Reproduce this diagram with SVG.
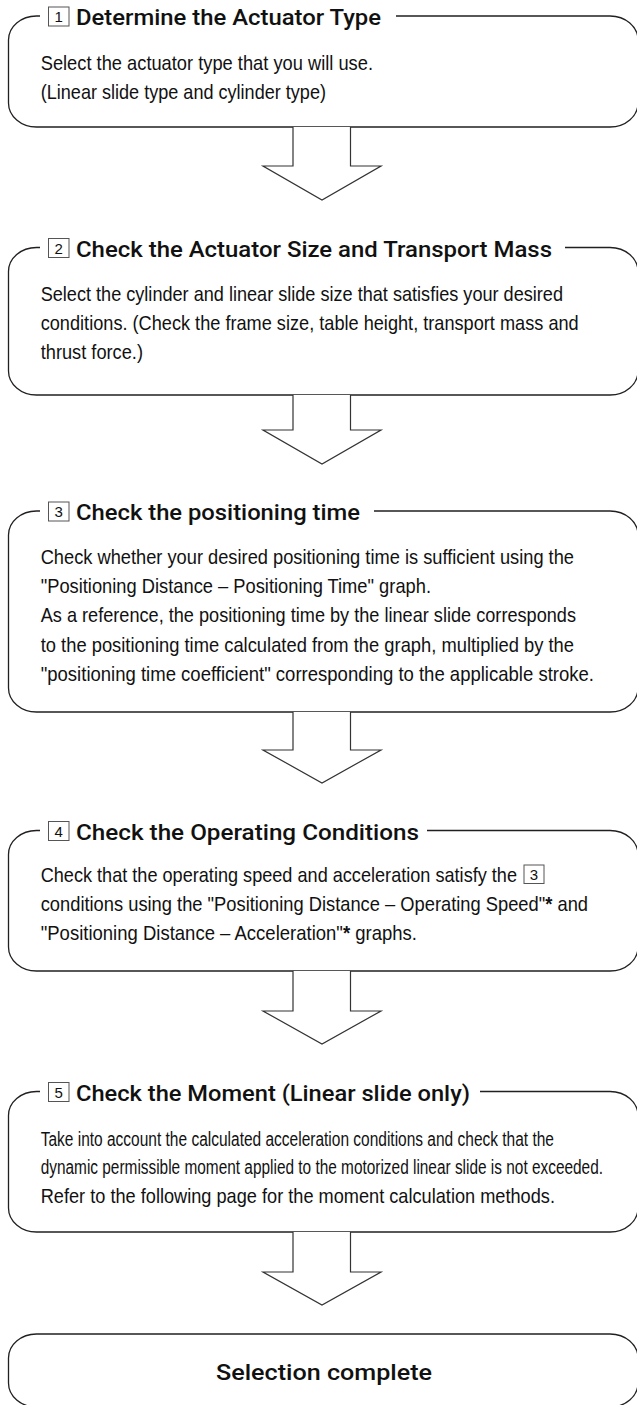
<svg xmlns="http://www.w3.org/2000/svg" width="637" height="1405" viewBox="0 0 637 1405">
<style>
.frame{fill:none;stroke:#231f20;stroke-width:1.3}
.arrow{fill:#fff;stroke:#333;stroke-width:1.2;stroke-linejoin:miter}
.title{font-family:Roboto,"Liberation Sans",Arial,sans-serif;font-weight:500;font-size:22px;fill:#111}
.body{font-family:"Liberation Sans",Arial,sans-serif;font-size:21px;fill:#111}
.small{font-size:20px}
.num{fill:#fff;stroke:#555;stroke-width:1}
.numt{font-family:"Liberation Sans",Arial,sans-serif;font-size:15px;fill:#111;text-anchor:middle}
.ast{font-weight:bold}
</style>
<rect x="0" y="0" width="637" height="1405" fill="#fff"/>

<g id="step1">
<path class="frame" d="M40,16 H36.5 A28,24 0 0 0 8.5,40 V103 A28,24 0 0 0 36.5,127 H610 A28,24 0 0 0 638,103 V40 A28,24 0 0 0 610,16 H396"/>
<rect class="num" x="48.5" y="7" width="20.5" height="19"/>
<text class="numt" x="58.75" y="22">1</text>
<text class="title" x="76" y="25" textLength="305" lengthAdjust="spacingAndGlyphs">Determine the Actuator Type</text>
<text class="body" x="40.7" y="69.5" textLength="332.3" lengthAdjust="spacingAndGlyphs">Select the actuator type that you will use.</text>
<text class="body" x="40.7" y="99" textLength="285.3" lengthAdjust="spacingAndGlyphs">(Linear slide type and cylinder type)</text>
</g>

<g id="step2">
<path class="frame" d="M40,247.5 H36.5 A28,24 0 0 0 8.5,271.5 V371 A28,24 0 0 0 36.5,395 H610 A28,24 0 0 0 638,371 V271.5 A28,24 0 0 0 610,247.5 H565"/>
<rect class="num" x="48.5" y="238.5" width="20.5" height="19"/>
<text class="numt" x="58.75" y="253.5">2</text>
<text class="title" x="76" y="256.5" textLength="476" lengthAdjust="spacingAndGlyphs">Check the Actuator Size and Transport Mass</text>
<text class="body" x="40.7" y="301" textLength="522.3" lengthAdjust="spacingAndGlyphs">Select the cylinder and linear slide size that satisfies your desired</text>
<text class="body" x="40.7" y="330" textLength="538" lengthAdjust="spacingAndGlyphs">conditions. (Check the frame size, table height, transport mass and</text>
<text class="body" x="40.7" y="359" textLength="102.3" lengthAdjust="spacingAndGlyphs">thrust force.)</text>
</g>

<g id="step3">
<path class="frame" d="M40,511 H36.5 A28,24 0 0 0 8.5,535 V688 A28,24 0 0 0 36.5,712 H610 A28,24 0 0 0 638,688 V535 A28,24 0 0 0 610,511 H374"/>
<rect class="num" x="48.5" y="502" width="20.5" height="19"/>
<text class="numt" x="58.75" y="517">3</text>
<text class="title" x="76" y="520" textLength="284" lengthAdjust="spacingAndGlyphs">Check the positioning time</text>
<text class="body" x="40.7" y="564" textLength="533.3" lengthAdjust="spacingAndGlyphs">Check whether your desired positioning time is sufficient using the</text>
<text class="body" x="40.7" y="593" textLength="390.3" lengthAdjust="spacingAndGlyphs">"Positioning Distance – Positioning Time" graph.</text>
<text class="body" x="40.7" y="622" textLength="535.3" lengthAdjust="spacingAndGlyphs">As a reference, the positioning time by the linear slide corresponds</text>
<text class="body" x="40.7" y="652" textLength="533.3" lengthAdjust="spacingAndGlyphs">to the positioning time calculated from the graph, multiplied by the</text>
<text class="body" x="40.7" y="681" textLength="553.3" lengthAdjust="spacingAndGlyphs">"positioning time coefficient" corresponding to the applicable stroke.</text>
</g>

<g id="step4">
<path class="frame" d="M40,830.5 H36.5 A28,24 0 0 0 8.5,854.5 V947 A28,24 0 0 0 36.5,971 H610 A28,24 0 0 0 638,947 V854.5 A28,24 0 0 0 610,830.5 H427"/>
<rect class="num" x="48.5" y="821.5" width="20.5" height="19"/>
<text class="numt" x="58.75" y="836.5">4</text>
<text class="title" x="76" y="839.5" textLength="343" lengthAdjust="spacingAndGlyphs">Check the Operating Conditions</text>
<text class="body" x="40.7" y="882" textLength="476.3" lengthAdjust="spacingAndGlyphs">Check that the operating speed and acceleration satisfy the</text>
<rect class="num" x="524" y="865" width="20" height="18.5"/>
<text class="numt" x="534" y="880">3</text>
<text class="body" x="40.7" y="911" textLength="547.3" lengthAdjust="spacingAndGlyphs">conditions using the "Positioning Distance – Operating Speed"<tspan class="ast">*</tspan> and</text>
<text class="body" x="40.7" y="940" textLength="376.3" lengthAdjust="spacingAndGlyphs">"Positioning Distance – Acceleration"<tspan class="ast">*</tspan> graphs.</text>
</g>

<g id="step5">
<path class="frame" d="M40,1091.5 H36.5 A28,24 0 0 0 8.5,1115.5 V1208 A28,24 0 0 0 36.5,1232 H610 A28,24 0 0 0 638,1208 V1115.5 A28,24 0 0 0 610,1091.5 H480"/>
<rect class="num" x="48.5" y="1082.5" width="20.5" height="19"/>
<text class="numt" x="58.75" y="1097.5">5</text>
<text class="title" x="76" y="1100.5" textLength="394" lengthAdjust="spacingAndGlyphs">Check the Moment (Linear slide only)</text>
<text class="body small" x="40.7" y="1146" textLength="513.3" lengthAdjust="spacingAndGlyphs">Take into account the calculated acceleration conditions and check that the</text>
<text class="body small" x="40.7" y="1174" textLength="562.3" lengthAdjust="spacingAndGlyphs">dynamic permissible moment applied to the motorized linear slide is not exceeded.</text>
<text class="body" x="40.7" y="1203" textLength="514.3" lengthAdjust="spacingAndGlyphs">Refer to the following page for the moment calculation methods.</text>
</g>

<g id="complete">
<path class="frame" d="M36.5,1334 A28,24 0 0 0 8.5,1358 V1383 A28,24 0 0 0 36.5,1407 H610 A28,24 0 0 0 638,1383 V1358 A28,24 0 0 0 610,1334 Z"/>
<text class="title" x="216" y="1380" textLength="216" lengthAdjust="spacingAndGlyphs">Selection complete</text>
</g>

<g id="connectors">
<polyline class="arrow" points="293,127 293,166 263,166 322,200 381,166 350.5,166 350.5,127"/>
<polyline class="arrow" points="293,395 293,430 263,430 322,464 381,430 350.5,430 350.5,395"/>
<polyline class="arrow" points="293,712 293,750 263,750 322,783 381,750 350.5,750 350.5,712"/>
<polyline class="arrow" points="293,971 293,1011 263,1011 322,1044 381,1011 350.5,1011 350.5,971"/>
<polyline class="arrow" points="293,1232 293,1272 263,1272 322,1305 381,1272 350.5,1272 350.5,1232"/>
</g>
</svg>
